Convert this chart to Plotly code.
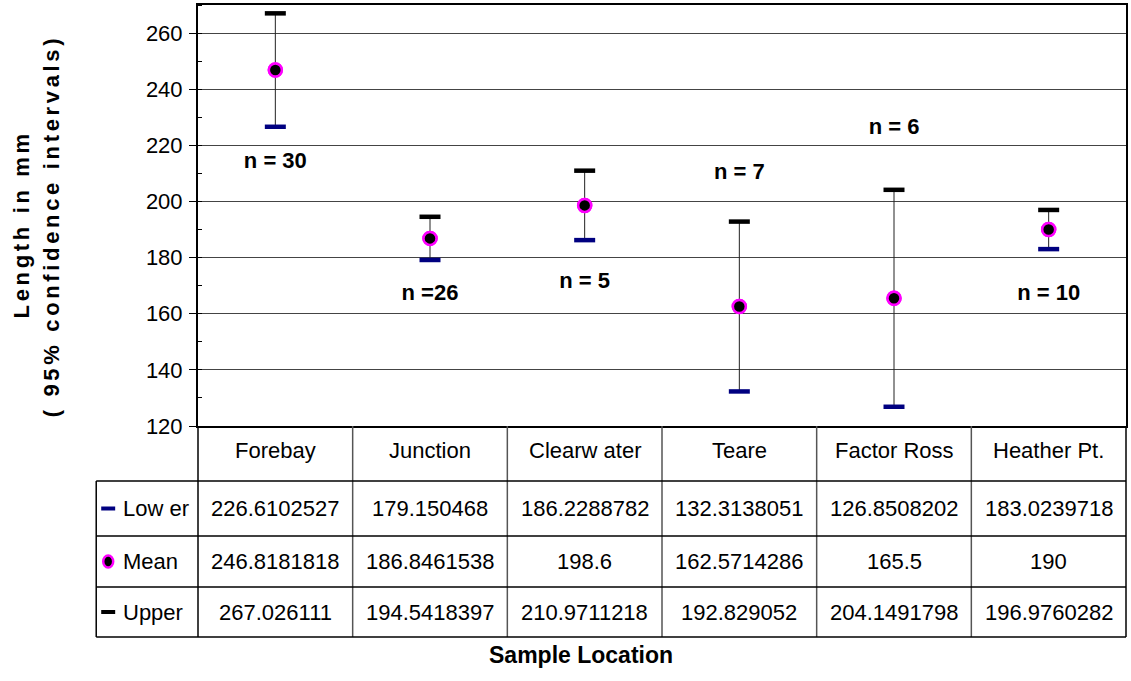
import plotly.graph_objects as go

# ---------------- data ----------------
categories = ["Forebay", "Junction", "Clearw ater", "Teare", "Factor Ross", "Heather Pt."]
lower = [226.6102527, 179.150468, 186.2288782, 132.3138051, 126.8508202, 183.0239718]
mean = [246.8181818, 186.8461538, 198.6, 162.5714286, 165.5, 190]
upper = [267.026111, 194.5418397, 210.9711218, 192.829052, 204.1491798, 196.9760282]
n_labels = ["n = 30", "n =26", "n = 5", "n = 7", "n = 6", "n = 10"]
n_label_y = [214, 167, 171, 210, 226, 167]
row_names = ["Low er", "Mean", "Upper"]
y_ticks = [120, 140, 160, 180, 200, 220, 240, 260]

# ---------------- layout geometry (pixels) ----------------
W, H = 1131, 681
L, R, T, B = 198, 1128, 5, 426
rows_px = [426, 481, 536, 587, 637]
table_left = 96

def pxx(p):
    return (p - L) / (R - L)

def pyy(p):
    return (B - p) / (B - T)

FONT = "Liberation Sans, Arial, sans-serif"
xs = list(range(len(categories)))

fig = go.Figure()

fig.add_trace(go.Scatter(
    x=xs, y=mean, mode="markers", name="Mean",
    marker=dict(symbol="circle", size=13, color="black", line=dict(color="#ff00ff", width=2.5)),
    error_y=dict(type="data", symmetric=False,
                 array=[u - m for u, m in zip(upper, mean)],
                 arrayminus=[m - l for m, l in zip(mean, lower)],
                 color="#222222", thickness=1, width=0),
    showlegend=False, cliponaxis=False,
))
fig.add_trace(go.Scatter(
    x=xs, y=lower, mode="markers", name="Lower",
    marker=dict(symbol="line-ew", size=15, line=dict(color="#000080", width=4.5)),
    showlegend=False, cliponaxis=False,
))
fig.add_trace(go.Scatter(
    x=xs, y=upper, mode="markers", name="Upper",
    marker=dict(symbol="line-ew", size=15, line=dict(color="black", width=4.5)),
    showlegend=False, cliponaxis=False,
))
fig.add_trace(go.Scatter(
    x=xs, y=mean, mode="markers",
    marker=dict(symbol="circle", size=13, color="black", line=dict(color="#ff00ff", width=2.5)),
    showlegend=False, cliponaxis=False,
))
fig.add_trace(go.Scatter(
    x=xs, y=n_label_y, mode="text", text=n_labels,
    textfont=dict(family=FONT, size=22, color="black", weight="bold"),
    showlegend=False, cliponaxis=False,
))

shapes = []
for k in range(len(categories) + 1):
    shapes.append(dict(type="line", xref="paper", yref="paper",
                       x0=k / len(categories), x1=k / len(categories),
                       y0=pyy(rows_px[0]), y1=pyy(rows_px[-1]),
                       line=dict(color="#555555" if 0 < k < len(categories) else "black", width=1.5)))
shapes.append(dict(type="line", xref="paper", yref="paper",
                   x0=pxx(table_left), x1=pxx(table_left),
                   y0=pyy(rows_px[1]), y1=pyy(rows_px[-1]),
                   line=dict(color="black", width=1.5)))
for rp in rows_px[1:]:
    shapes.append(dict(type="line", xref="paper", yref="paper",
                       x0=pxx(table_left), x1=1, y0=pyy(rp), y1=pyy(rp),
                       line=dict(color="black", width=1.5)))

row_centers = [(rows_px[i] + rows_px[i + 1]) / 2 for i in range(1, 4)]
sym_x = 108
shapes.append(dict(type="rect", xref="paper", yref="paper",
                   x0=pxx(sym_x - 7), x1=pxx(sym_x + 7),
                   y0=pyy(row_centers[0] - 2), y1=pyy(row_centers[0] + 2),
                   fillcolor="#000080", line=dict(width=0)))
shapes.append(dict(type="circle", xref="paper", yref="paper",
                   x0=pxx(sym_x - 5), x1=pxx(sym_x + 5),
                   y0=pyy(row_centers[1] - 6), y1=pyy(row_centers[1] + 6),
                   fillcolor="black", line=dict(color="#ff00ff", width=2.5)))
shapes.append(dict(type="rect", xref="paper", yref="paper",
                   x0=pxx(sym_x - 7), x1=pxx(sym_x + 7),
                   y0=pyy(row_centers[2] - 2), y1=pyy(row_centers[2] + 2),
                   fillcolor="black", line=dict(width=0)))

annotations = []
cell_font = dict(family=FONT, size=22, color="black")
hdr_center = (rows_px[0] + rows_px[1]) / 2 - 3
for i, c in enumerate(categories):
    cx = (i + 0.5) / len(categories)
    annotations.append(dict(x=cx, y=pyy(hdr_center), xref="paper", yref="paper",
                            text=c, showarrow=False, font=cell_font,
                            xanchor="center", yanchor="middle"))
    for r, vals in enumerate([lower, mean, upper]):
        annotations.append(dict(x=cx, y=pyy(row_centers[r]), xref="paper", yref="paper",
                                text=f"{vals[i]:.10g}", showarrow=False, font=cell_font,
                                xanchor="center", yanchor="middle"))
for r, name in enumerate(row_names):
    annotations.append(dict(x=pxx(121), y=pyy(row_centers[r]), xref="paper", yref="paper",
                            text=name, showarrow=False, font=cell_font,
                            xanchor="left", yanchor="middle"))

annotations.append(dict(x=pxx(582), y=pyy(655), xref="paper", yref="paper",
                        text="Sample Location", showarrow=False,
                        font=dict(family=FONT, size=23, color="black", weight="bold"),
                        xanchor="center", yanchor="middle"))
sp = "\u2006"
title1 = sp.join("Length in mm")
title2 = sp.join("( 95% confidence intervals)")
annotations.append(dict(x=pxx(21), y=pyy(226), xref="paper", yref="paper",
                        text=title1, textangle=-90, showarrow=False,
                        font=dict(family=FONT, size=22, color="black", weight="bold"),
                        xanchor="center", yanchor="middle"))
annotations.append(dict(x=pxx(51), y=pyy(228), xref="paper", yref="paper",
                        text=title2, textangle=-90, showarrow=False,
                        font=dict(family=FONT, size=22, color="black", weight="bold"),
                        xanchor="center", yanchor="middle"))

fig.update_layout(
    width=W, height=H,
    margin=dict(l=L, r=W - R, t=T, b=H - B),
    paper_bgcolor="white", plot_bgcolor="white",
    shapes=shapes, annotations=annotations,
    xaxis=dict(range=[-0.5, len(categories) - 0.5], showticklabels=False, ticks="",
               showgrid=False, zeroline=False, showline=True, linecolor="black",
               linewidth=1.5, mirror=True),
    yaxis=dict(range=[120, 270], tickvals=y_ticks, ticks="outside", ticklen=7,
               tickcolor="black", tickwidth=1, ticklabelstandoff=2,
               tickfont=dict(family=FONT, size=22, color="black"),
               showgrid=True, gridcolor="#444444", gridwidth=1,
               zeroline=False, showline=True, linecolor="black", linewidth=2, mirror=True,
               minor=dict(dtick=10, tick0=120, ticks="inside", ticklen=4,
                          tickcolor="black", showgrid=False)),
)

fig.write_html("out.html", config={"displayModeBar": False},
               post_script="document.body.style.margin='0px';")
